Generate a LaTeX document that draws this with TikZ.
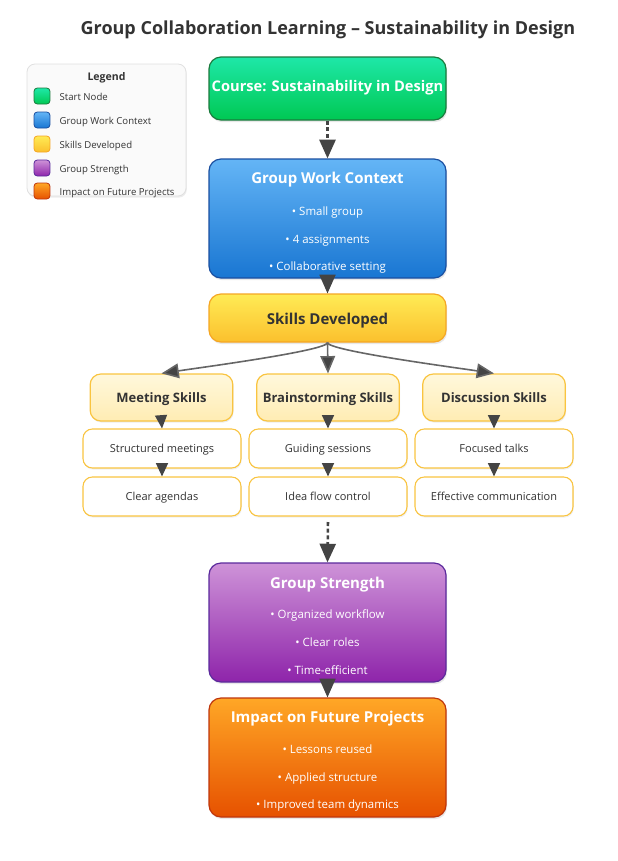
\documentclass[tikz,border=0pt]{standalone}
\usepackage{fontspec}
\setmainfont{Open Sans}
\usetikzlibrary{arrows.meta, shadows}

\definecolor{ink}{HTML}{333333}
\definecolor{tip}{HTML}{444444}
\definecolor{wire}{HTML}{666666}
\definecolor{greenT}{HTML}{1EE8A8}
\definecolor{greenB}{HTML}{00C853}
\definecolor{greenD}{HTML}{1B7A3D}
\definecolor{blueT}{HTML}{64B5F6}
\definecolor{blueB}{HTML}{1976D2}
\definecolor{blueD}{HTML}{1A4FA0}
\definecolor{yelT}{HTML}{FFEB55}
\definecolor{yelB}{HTML}{FBC02D}
\definecolor{yelD}{HTML}{F5A623}
\definecolor{paleT}{HTML}{FFF8DC}
\definecolor{paleB}{HTML}{FFECB3}
\definecolor{paleD}{HTML}{F9C440}
\definecolor{purT}{HTML}{CE93D8}
\definecolor{purB}{HTML}{8E24AA}
\definecolor{purD}{HTML}{5B2A9C}
\definecolor{orT}{HTML}{FFA726}
\definecolor{orB}{HTML}{E65100}
\definecolor{orD}{HTML}{BF360C}

\tikzset{
  txt/.style={text height=0.75em, text depth=0.25em},
  box/.style={rounded corners=9pt, line width=0.9pt, minimum width=177.75pt,
    drop shadow={opacity=0.18, shadow xshift=0.8pt, shadow yshift=-1.6pt}},
  skillbox/.style={rounded corners=8pt, line width=0.9pt, draw=paleD,
    top color=paleT, bottom color=paleB, minimum width=107pt, minimum height=35.25pt,
    drop shadow={opacity=0.15, shadow xshift=0.6pt, shadow yshift=-1.2pt}},
  skilltext/.style={txt, text=ink, font=\bfseries\fontsize{9.75}{11}\selectfont},
  leafbox/.style={rounded corners=7pt, line width=0.8pt, draw=paleD, fill=white,
    minimum width=118.5pt, minimum height=29.25pt,
    drop shadow={opacity=0.12, shadow xshift=0.6pt, shadow yshift=-1.2pt}},
  leaftext/.style={txt, text=ink, font=\fontsize{8.25}{10}\selectfont},
  head/.style={txt, text=white, font=\bfseries\fontsize{11.25}{13}\selectfont},
  item/.style={txt, text=white, font=\fontsize{8.6}{10}\selectfont},
  swatch/.style={rounded corners=2.5pt, minimum size=12pt, line width=0.6pt},
  keytext/.style={txt, anchor=west, text=ink, font=\fontsize{7.2}{9}\selectfont},
  flow/.style={-{Triangle[length=14pt,width=12pt]}, tip, line width=1.3pt},
  dotflow/.style={flow, line width=1.9pt, dash pattern=on 3pt off 2pt},
  branch/.style={-{Triangle[length=13pt,width=11pt,fill=tip]}, wire, line width=1.2pt},
  small/.style={-{Triangle[length=10pt,width=9pt]}, tip, line width=1pt}
}

\begin{document}
\begin{tikzpicture}[x=0.75pt, y=-0.75pt]
  \useasboundingbox (0,0) rectangle (618,861);

  % title
  \node[txt, text=ink, font=\bfseries\fontsize{13.5}{16}\selectfont] (title) at (328,31)
    {Group Collaboration Learning -- Sustainability in Design};

  % legend
  \node[rounded corners=6pt, fill=black!2, draw=black!12, line width=0.6pt,
    minimum width=119.25pt, minimum height=99pt,
    drop shadow={opacity=0.15, shadow xshift=0.6pt, shadow yshift=-1.2pt}] (legend) at (106.5,130) {};
  \node[txt, text=ink, font=\bfseries\fontsize{7.9}{9}\selectfont] (legendhead) at (106.5,77) {Legend};
  \node[swatch, draw=greenD, top color=greenT, bottom color=greenB] (k1) at (42,96) {};
  \node[swatch, draw=blueD, top color=blueT, bottom color=blueB] (k2) at (42,120) {};
  \node[swatch, draw=yelD, top color=yelT, bottom color=yelB] (k3) at (42,144) {};
  \node[swatch, draw=purD, top color=purT, bottom color=purB] (k4) at (42,168) {};
  \node[swatch, draw=orD, top color=orT, bottom color=orB] (k5) at (42,191) {};
  \node[keytext] (k1t) at (55,97) {Start Node};
  \node[keytext] (k2t) at (55,121) {Group Work Context};
  \node[keytext] (k3t) at (55,145) {Skills Developed};
  \node[keytext] (k4t) at (55,169) {Group Strength};
  \node[keytext] (k5t) at (55,192) {Impact on Future Projects};

  % main column
  \node[box, draw=greenD, top color=greenT, bottom color=greenB, minimum height=47.25pt] (course) at (327.5,88.5) {};
  \node[head, font=\bfseries\fontsize{11}{13}\selectfont] (course-t) at (327.5,88) {Course: Sustainability in Design};

  \node[box, draw=blueD, top color=blueT, bottom color=blueB, minimum height=89.25pt] (context) at (327.5,218.5) {};
  \node[head] (context-t) at (327.5,180) {Group Work Context};
  \node[item] (context-1) at (327.5,212) {\textbullet\ Small group};
  \node[item] (context-2) at (327.5,240) {\textbullet\ 4 assignments};
  \node[item] (context-3) at (327.5,267) {\textbullet\ Collaborative setting};

  \node[box, draw=yelD, top color=yelT, bottom color=yelB, minimum height=36pt] (skills) at (327.5,318) {};
  \node[txt, text=ink, font=\bfseries\fontsize{11.25}{13}\selectfont] (skills-t) at (327.5,321) {Skills Developed};

  % skill branches
  \node[skillbox] (meet) at (161.5,397.5) {};
  \node[skillbox] (brain) at (328,397.5) {};
  \node[skillbox] (disc) at (494,397.5) {};
  \node[skilltext] (meet-t) at (161.5,399.5) {Meeting Skills};
  \node[skilltext] (brain-t) at (328,399.5) {Brainstorming Skills};
  \node[skilltext] (disc-t) at (494,399.5) {Discussion Skills};

  \node[leafbox] (meet-a) at (162,448.5) {};
  \node[leafbox] (meet-b) at (162,496.5) {};
  \node[leafbox] (brain-a) at (328,448.5) {};
  \node[leafbox] (brain-b) at (328,496.5) {};
  \node[leafbox] (disc-a) at (494,448.5) {};
  \node[leafbox] (disc-b) at (494,496.5) {};
  \node[leaftext] (meet-at) at (162,449.5) {Structured meetings};
  \node[leaftext] (meet-bt) at (162,497) {Clear agendas};
  \node[leaftext] (brain-at) at (328,449.5) {Guiding sessions};
  \node[leaftext] (brain-bt) at (328,497) {Idea flow control};
  \node[leaftext] (disc-at) at (494,449.5) {Focused talks};
  \node[leaftext] (disc-bt) at (494,497) {Effective communication};

  \node[box, draw=purD, top color=purT, bottom color=purB, minimum height=89.25pt] (strength) at (327.5,622.5) {};
  \node[head] (strength-t) at (327.5,585) {Group Strength};
  \node[item] (strength-1) at (327.5,615) {\textbullet\ Organized workflow};
  \node[item] (strength-2) at (327.5,643) {\textbullet\ Clear roles};
  \node[item] (strength-3) at (327.5,671) {\textbullet\ Time-efficient};

  \node[box, draw=orD, top color=orT, bottom color=orB, minimum height=89.25pt] (impact) at (327.5,757.5) {};
  \node[head] (impact-t) at (327.5,719) {Impact on Future Projects};
  \node[item] (impact-1) at (327.5,750) {\textbullet\ Lessons reused};
  \node[item] (impact-2) at (327.5,778) {\textbullet\ Applied structure};
  \node[item] (impact-3) at (327.5,805) {\textbullet\ Improved team dynamics};

  \coordinate (gap) at (328,522);

  % connectors
  \draw[dotflow] (course.south) -- (context.north);
  \draw[flow] (context.south) -- (skills.north);
  \draw[branch] (skills.south) .. controls +(0,8) and +(40,-6) .. (meet.north);
  \draw[branch] (skills.south) -- (brain.north);
  \draw[branch] (skills.south) .. controls +(0,8) and +(-40,-6) .. (disc.north);
  \foreach \s in {meet, brain, disc} {
    \draw[small] (\s.south) -- (\s-a.north);
    \draw[small] (\s-a.south) -- (\s-b.north);
  }
  \draw[dotflow] (gap) -- (strength.north);
  \draw[flow] (strength.south) -- (impact.north);
\end{tikzpicture}
\end{document}
